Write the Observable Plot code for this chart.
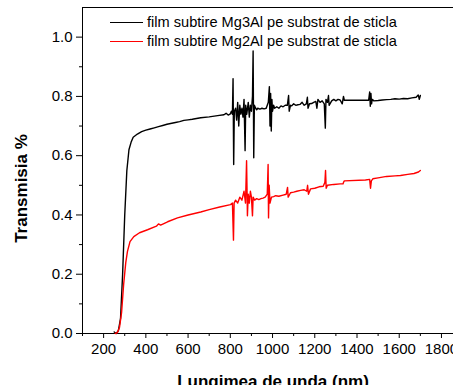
<!DOCTYPE html>
<html>
<head>
<meta charset="utf-8">
<script src="https://cdn.jsdelivr.net/npm/d3@7"></script>
<script src="https://cdn.jsdelivr.net/npm/@observablehq/plot@0.6"></script>
<style>
  body { margin: 0; background: #fff; }
  #wrap { position: relative; width: 453px; height: 385px; overflow: hidden; font-family: "Liberation Sans", Arial, sans-serif; }
  #legend { position: absolute; left: 110px; top: 13px; font-size: 14.6px; line-height: 19px; color: #000; }
  #legend .row { display: flex; align-items: center; white-space: nowrap; }
  #legend .sw { display: inline-block; width: 33px; height: 0; border-top: 1.5px solid; margin-right: 4px; }
</style>
</head>
<body>
<div id="wrap"><div id="legend"></div></div>
<script>
// ---- data ----
const seriesNames = ["film subtire Mg3Al pe substrat de sticla", "film subtire Mg2Al pe substrat de sticla"];
const seriesColors = ["#000000", "#ff0000"];

const mg3alNm = [250,260,270,280,290,300,310,320,330,340,360,380,400,420,440,460,480,500,540,560,580,600,620,660,700,740,770,780,790,800,
  805,810,813,816,819,825,830,835,840,845,850,855,860,865,870,873,878,885,890,895,900,905,908,911,914,920,925,930,940,950,960,970,980,985,988,991,994,997,1000,1005,1010,1020,1030,1040,1050,1060,1070,1076,1079,1085,1090,1100,1110,1120,1130,1140,1150,1160,1165,1168,1175,1185,1195,1205,1210,1215,1225,1235,1245,1250,1253,1260,1265,1268,1280,1290,1300,1310,1320,1330,1336,1340,1455,1460,1463,1466,1469,1472,1480,1500,1520,1540,1560,1580,1600,1620,1640,1660,1680,1690,1695,1700];
const mg3alT = [0.005,0.0,0.01,0.05,0.20,0.40,0.55,0.62,0.645,0.662,0.673,0.681,0.686,0.69,0.694,0.698,0.702,0.706,0.712,0.715,0.719,0.721,0.723,0.728,0.731,0.735,0.738,0.743,0.737,0.741,
  0.75,0.74,0.86,0.57,0.75,0.76,0.72,0.78,0.70,0.77,0.74,0.76,0.73,0.79,0.617,0.77,0.74,0.78,0.73,0.77,0.75,0.80,0.953,0.593,0.77,0.76,0.755,0.76,0.757,0.76,0.758,0.76,0.78,0.833,0.70,0.81,0.683,0.79,0.75,0.77,0.76,0.765,0.76,0.768,0.765,0.77,0.77,0.803,0.75,0.77,0.768,0.775,0.77,0.772,0.773,0.78,0.77,0.775,0.797,0.76,0.775,0.776,0.78,0.783,0.76,0.79,0.78,0.785,0.775,0.693,0.79,0.78,0.803,0.77,0.785,0.79,0.785,0.79,0.788,0.775,0.80,0.787,0.787,0.815,0.767,0.81,0.775,0.79,0.785,0.786,0.788,0.789,0.79,0.792,0.791,0.793,0.792,0.795,0.797,0.805,0.79,0.803];

const mg2alNm = [255,265,275,285,295,305,313,325,343,370,408,450,460,470,503,550,600,660,700,750,801,810,815,818,825,835,845,855,865,872,877,880,881,885,890,895,900,905,908,915,925,935,945,955,965,975,979,981,984,988,995,1005,1015,1030,1050,1065,1071,1074,1085,1100,1115,1133,1150,1162,1166,1170,1180,1200,1220,1240,1248,1251,1254,1260,1290,1320,1334,1336,1340,1440,1460,1464,1468,1475,1500,1540,1580,1606,1640,1670,1691,1700];
const mg2alT = [0.0,0.003,0.02,0.07,0.167,0.24,0.277,0.31,0.327,0.34,0.35,0.362,0.37,0.366,0.377,0.39,0.40,0.41,0.418,0.427,0.435,0.44,0.315,0.44,0.45,0.44,0.46,0.45,0.48,0.44,0.583,0.45,0.397,0.47,0.44,0.48,0.46,0.397,0.46,0.45,0.455,0.452,0.455,0.457,0.46,0.47,0.57,0.39,0.50,0.44,0.46,0.462,0.465,0.463,0.467,0.47,0.493,0.46,0.475,0.477,0.48,0.483,0.485,0.48,0.50,0.47,0.488,0.49,0.495,0.497,0.51,0.55,0.49,0.50,0.503,0.505,0.505,0.51,0.515,0.518,0.52,0.49,0.515,0.522,0.525,0.53,0.532,0.533,0.537,0.54,0.545,0.55];

const yMajor = [0, 0.2, 0.4, 0.6, 0.8, 1.0];
const yMinor = [0.1, 0.3, 0.5, 0.7, 0.9];
const xMajor = [200, 400, 600, 800, 1000, 1200, 1400, 1600, 1800];
const xMinor = [100, 300, 500, 700, 900, 1100, 1300, 1500, 1700];
const xTitle = "Lungimea de unda (nm)";
const yTitle = "Transmisia %";

// ---- build ----
const data = [
  ...mg3alNm.map((x, i) => ({x, y: mg3alT[i], s: seriesNames[0]})),
  ...mg2alNm.map((x, i) => ({x, y: mg2alT[i], s: seriesNames[1]}))
];

const font = "Liberation Sans, Arial, sans-serif";
const chart = Plot.plot({
  width: 453,
  height: 385,
  marginLeft: 82,
  marginRight: 0,
  marginTop: 7,
  marginBottom: 52,
  style: {fontFamily: font, fontSize: "15px", color: "#000", background: "#fff"},
  x: {domain: [100, 1857]},
  y: {domain: [0, 1.1]},
  color: {domain: seriesNames, range: seriesColors},
  marks: [
    Plot.ruleX([100], {stroke: "#000", strokeWidth: 1}),
    Plot.ruleY([0], {stroke: "#000", strokeWidth: 1}),
    Plot.ruleY([1.1], {stroke: "#000", strokeWidth: 1}),
    Plot.axisY({ticks: yMajor, tickFormat: d3.format(".1f"), tickSize: 6, tickPadding: 4, label: null, fontSize: 15}),
    Plot.axisY({ticks: yMinor, tickFormat: () => "", tickSize: 3, label: null}),
    Plot.axisX({ticks: xMajor, tickFormat: d => String(d), tickSize: 5, tickPadding: 5, label: null, fontSize: 15}),
    Plot.axisX({ticks: xMinor, tickFormat: () => "", tickSize: 3, label: null}),
    Plot.line(data, {x: "x", y: "y", z: "s", stroke: "s", strokeWidth: 1.4}),
    Plot.text([yTitle], {frameAnchor: "left", dx: -61, dy: 18, rotate: -90, fontSize: 17, fontWeight: "bold", textAnchor: "middle"}),
    Plot.text([xTitle], {frameAnchor: "bottom", dx: 5, dy: 53, lineAnchor: "bottom", fontSize: 17, fontWeight: "bold", textAnchor: "middle"})
  ]
});
document.getElementById("wrap").prepend(chart);

const legend = document.getElementById("legend");
seriesNames.forEach((name, i) => {
  const row = document.createElement("div");
  row.className = "row";
  const sw = document.createElement("span");
  sw.className = "sw";
  sw.style.borderTopColor = seriesColors[i];
  const t = document.createElement("span");
  t.textContent = name;
  row.append(sw, t);
  legend.append(row);
});
</script>
</body>
</html>
